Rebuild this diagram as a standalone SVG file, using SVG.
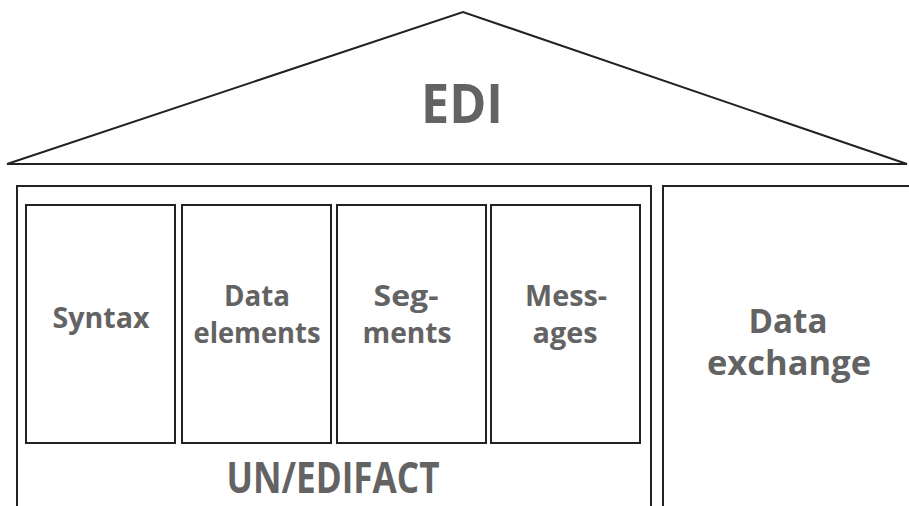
<svg xmlns="http://www.w3.org/2000/svg" width="909" height="506" viewBox="0 0 909 506">
<style>
.ln{fill:none;stroke:#222;stroke-width:2;stroke-linejoin:miter}
.bx{fill:#fff;stroke:#222;stroke-width:2}
.t{font-family:"Open Sans","Noto Sans",sans-serif;font-weight:700;fill:#636363;text-anchor:middle}
.s{font-size:29px}
</style>
<rect width="909" height="506" fill="#fff"/>
<g id="roof">
<path class="ln" d="M7 164 L463 12 L907 164 Z"/>
<text class="t" x="462" y="123" font-size="53" textLength="82" lengthAdjust="spacingAndGlyphs">EDI</text>
</g>
<g id="unedifact">
<path class="ln" d="M17 507 V186 H651 V507"/>
<text class="t" x="333" y="493" font-size="43" textLength="213" lengthAdjust="spacingAndGlyphs">UN/EDIFACT</text>
</g>
<g id="syntax">
<rect class="bx" x="26" y="205" width="149" height="238"/>
<text class="t s" x="101" y="328" textLength="97" lengthAdjust="spacingAndGlyphs">Syntax</text>
</g>
<g id="data-elements">
<rect class="bx" x="182" y="205" width="149" height="238"/>
<text class="t s" x="257" y="306" textLength="66" lengthAdjust="spacingAndGlyphs">Data</text>
<text class="t s" x="257" y="343" textLength="127" lengthAdjust="spacingAndGlyphs">elements</text>
</g>
<g id="segments">
<rect class="bx" x="337" y="205" width="149" height="238"/>
<text class="t s" x="406" y="306" textLength="65" lengthAdjust="spacingAndGlyphs">Seg-</text>
<text class="t s" x="407" y="343" textLength="89" lengthAdjust="spacingAndGlyphs">ments</text>
</g>
<g id="messages">
<rect class="bx" x="491" y="205" width="149" height="238"/>
<text class="t s" x="566" y="306" textLength="82" lengthAdjust="spacingAndGlyphs">Mess-</text>
<text class="t s" x="565" y="343" textLength="65" lengthAdjust="spacingAndGlyphs">ages</text>
</g>
<g id="data-exchange">
<path class="ln" d="M663 507 V186 H910"/>
<text class="t" x="788" y="333" font-size="34" textLength="79" lengthAdjust="spacingAndGlyphs">Data</text>
<text class="t" x="789" y="375" font-size="34" textLength="164" lengthAdjust="spacingAndGlyphs">exchange</text>
</g>
<g id="connectors"></g>
</svg>
